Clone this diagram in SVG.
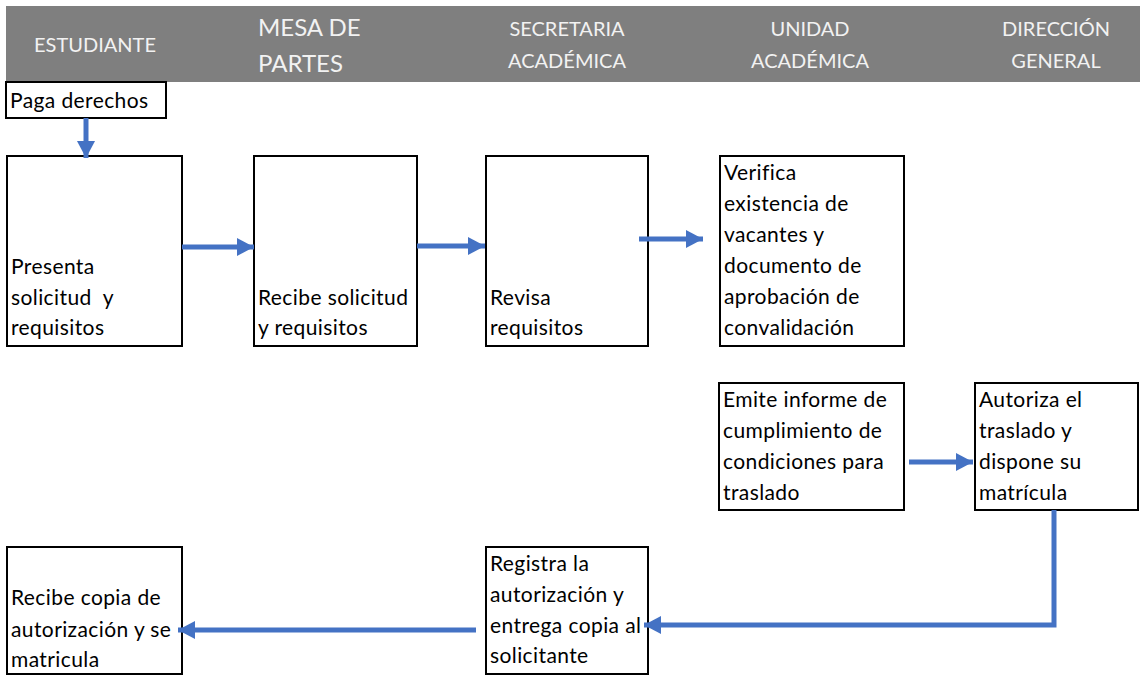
<svg xmlns="http://www.w3.org/2000/svg" width="1140" height="675" viewBox="0 0 1140 675">
<style>
.box{fill:#fff;stroke:#000;stroke-width:2}
.t{font-family:Lato,"Open Sans","Liberation Sans",sans-serif;font-size:21px;letter-spacing:0.4px;fill:#000}
.h{font-family:Lato,"Open Sans","Liberation Sans",sans-serif;font-size:20px;fill:#f2f2f2;text-anchor:middle}
.hb{font-family:Lato,"Open Sans","Liberation Sans",sans-serif;font-size:24px;fill:#f2f2f2}
.c{fill:none;stroke:#4472C4;stroke-width:5}
</style>
<defs>
<marker id="ah" markerUnits="userSpaceOnUse" markerWidth="18" markerHeight="18" refX="17" refY="9" orient="auto">
<path d="M0,0 L17,9 L0,18 Z" fill="#4472C4"/>
</marker>
</defs>
<rect width="1140" height="675" fill="#fff"/>
<g id="header">
<rect x="6" y="6" width="1134" height="76" fill="#7f7f7f"/>
<text class="h" x="95" y="52">ESTUDIANTE</text>
<text class="hb" x="258" y="36">MESA DE</text>
<text class="hb" x="258" y="72">PARTES</text>
<text class="h" x="567" y="36">SECRETARIA</text>
<text class="h" x="567" y="68">ACADÉMICA</text>
<text class="h" x="810" y="36">UNIDAD</text>
<text class="h" x="810" y="68">ACADÉMICA</text>
<text class="h" x="1056" y="36">DIRECCIÓN</text>
<text class="h" x="1056" y="68">GENERAL</text>
</g>
<g id="paga">
<rect class="box" x="6" y="82" width="160" height="36"/>
<text class="t" x="10" y="108">Paga derechos</text>
</g>
<g id="presenta">
<rect class="box" x="7" y="156" width="175" height="190"/>
<text class="t" x="11" y="274">Presenta</text>
<text class="t" x="11" y="305" xml:space="preserve">solicitud  y</text>
<text class="t" x="11" y="335">requisitos</text>
</g>
<g id="recibe">
<rect class="box" x="254" y="156" width="163" height="190"/>
<text class="t" x="258" y="305">Recibe solicitud</text>
<text class="t" x="258" y="335">y requisitos</text>
</g>
<g id="revisa">
<rect class="box" x="486" y="156" width="162" height="190"/>
<text class="t" x="490" y="305">Revisa</text>
<text class="t" x="490" y="335">requisitos</text>
</g>
<g id="verifica">
<rect class="box" x="720" y="156" width="184" height="190"/>
<text class="t" x="724" y="180">Verifica</text>
<text class="t" x="724" y="211">existencia de</text>
<text class="t" x="724" y="242">vacantes y</text>
<text class="t" x="724" y="273">documento de</text>
<text class="t" x="724" y="304">aprobación de</text>
<text class="t" x="724" y="335">convalidación</text>
</g>
<g id="emite">
<rect class="box" x="719" y="383" width="185" height="127"/>
<text class="t" x="723" y="407">Emite informe de</text>
<text class="t" x="723" y="438">cumplimiento de</text>
<text class="t" x="723" y="469">condiciones para</text>
<text class="t" x="723" y="500">traslado</text>
</g>
<g id="autoriza">
<rect class="box" x="975" y="383" width="163" height="127"/>
<text class="t" x="979" y="407">Autoriza el</text>
<text class="t" x="979" y="438">traslado y</text>
<text class="t" x="979" y="469">dispone su</text>
<text class="t" x="979" y="500">matrícula</text>
</g>
<g id="registra">
<rect class="box" x="486" y="547" width="162" height="127"/>
<text class="t" x="490" y="571">Registra la</text>
<text class="t" x="490" y="602">autorización y</text>
<text class="t" x="490" y="633">entrega copia al</text>
<text class="t" x="490" y="663">solicitante</text>
</g>
<g id="recibecopia">
<rect class="box" x="7" y="547" width="175" height="127"/>
<text class="t" x="11" y="605">Recibe copia de</text>
<text class="t" x="11" y="637">autorización y se</text>
<text class="t" x="11" y="667">matricula</text>
</g>
<g id="connectors">
<path class="c" d="M86,118 V158" marker-end="url(#ah)"/>
<path class="c" d="M182,247 H254" marker-end="url(#ah)"/>
<path class="c" d="M417,246 H485" marker-end="url(#ah)"/>
<path class="c" d="M639,239 H703" marker-end="url(#ah)"/>
<path class="c" d="M909,462 H973" marker-end="url(#ah)"/>
<path class="c" d="M1054,510 V625 H644" marker-end="url(#ah)"/>
<path class="c" d="M476,630 H178" marker-end="url(#ah)"/>
</g>
</svg>
